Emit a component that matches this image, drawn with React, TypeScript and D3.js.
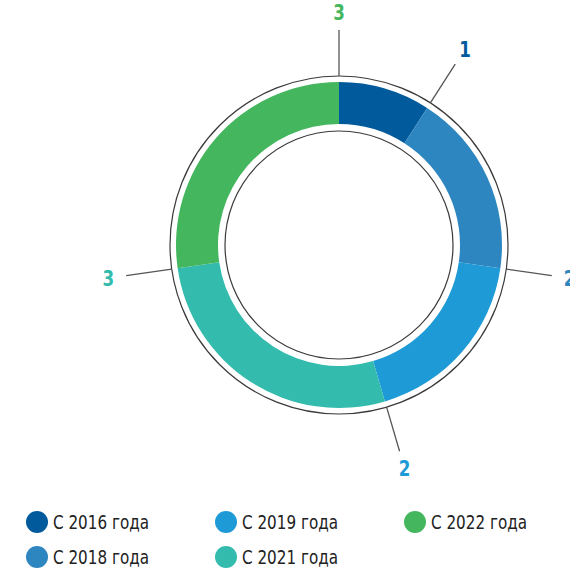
import React from 'react'
import * as d3 from 'd3'

const categories = ['С 2016 года', 'С 2018 года', 'С 2019 года', 'С 2021 года', 'С 2022 года']
const values = [1, 2, 2, 3, 3]
const colors = ['#005a9c', '#2e86c1', '#1e9ad6', '#33bbad', '#44b75e']

// legend order (column-wise, as in the picture)
const legendOrder = [0, 1, 2, 3, 4]

const cx = 339
const cy = 245
const font = "'DejaVu Sans', sans-serif"
// the original uses a condensed face; squeeze DejaVu horizontally
const squeeze = 0.76

const App = () => {
  const pie = d3.pie<number>().value((d) => d).sort(null)
  const slices = pie(values)
  const arcGen = d3.arc<d3.PieArcDatum<number>>().innerRadius(121).outerRadius(163)

  const lineIn = 169
  const lineOut = 215
  const labelR = 233

  return (
    <svg width={570} height={569} style={{ position: 'absolute', left: 0, top: 0 }}>
      <g transform={`translate(${cx},${cy})`}>
        {slices.map((s, i) => (
          <path key={i} d={arcGen(s) || ''} fill={colors[i]} />
        ))}
        <circle r={169} fill="none" stroke="#3a3a3a" strokeWidth={1.2} />
        <circle r={114} fill="none" stroke="#3a3a3a" strokeWidth={1.2} />
        {slices.map((s, i) => {
          const a = s.endAngle
          const sx = Math.sin(a)
          const sy = -Math.cos(a)
          return (
            <g key={'l' + i}>
              <line x1={sx * lineIn} y1={sy * lineIn} x2={sx * lineOut} y2={sy * lineOut}
                stroke="#555" strokeWidth={1.3} />
              <text transform={`translate(${sx * labelR},${sy * labelR}) scale(${squeeze},1)`}
                dy="0.35em" textAnchor="middle"
                fill={colors[i]} fontFamily={font} fontWeight="bold" fontSize={22}>
                {values[i]}
              </text>
            </g>
          )
        })}
      </g>
      {legendOrder.map((idx, k) => {
        const col = Math.floor(k / 2)
        const row = k % 2
        const x = 37 + col * 189
        const y = 522 + row * 35
        return (
          <g key={'g' + idx}>
            <circle cx={x} cy={y} r={11} fill={colors[idx]} />
            <text transform={`translate(${x + 16},${y}) scale(${squeeze},1)`} dy="0.36em"
              fontFamily={font} fontSize={20} fill="#222">
              {categories[idx]}
            </text>
          </g>
        )
      })}
    </svg>
  )
}

export default App
